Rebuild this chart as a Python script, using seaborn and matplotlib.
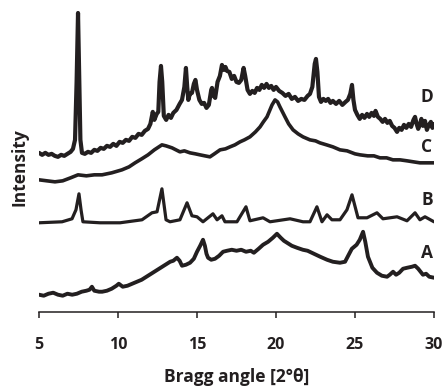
import matplotlib
matplotlib.use("Agg")
import matplotlib.pyplot as plt
import seaborn as sns
import pandas as pd

# ---- data (2theta in degrees, intensity in arbitrary units, already offset) ----
d_x = [5.0, 5.2, 5.4, 5.6, 5.8, 6.0, 6.2, 6.4, 6.6, 6.8, 7.0, 7.15, 7.28, 7.38, 7.47, 7.55, 7.62,
       7.72, 7.9, 8.1, 8.3, 8.5, 8.7, 8.9, 9.1, 9.3, 9.5, 9.7, 9.9, 10.1, 10.3, 10.5, 10.7, 10.9,
       11.1, 11.3, 11.5, 11.7, 11.9, 12.05, 12.2, 12.3, 12.45, 12.55, 12.63, 12.72, 12.8, 12.9,
       13.05, 13.2, 13.35, 13.5, 13.7, 13.9, 14.05, 14.2, 14.3, 14.38, 14.45, 14.55, 14.68, 14.8,
       14.9, 15.0, 15.15, 15.3, 15.45, 15.6, 15.75, 15.9, 15.95, 16.05, 16.15, 16.3, 16.45, 16.58,
       16.7, 16.8, 16.9, 17.05, 17.2, 17.35, 17.5, 17.65, 17.8, 17.95, 18.05, 18.2, 18.35, 18.5,
       18.65, 18.8, 18.95, 19.1, 19.25, 19.4, 19.55, 19.7, 19.85, 20.0, 20.2, 20.4, 20.6, 20.8,
       21.0, 21.2, 21.4, 21.6, 21.8, 22.0, 22.15, 22.3, 22.45, 22.53, 22.62, 22.72, 22.85, 23.0,
       23.15, 23.3, 23.45, 23.6, 23.8, 24.0, 24.2, 24.4, 24.55, 24.7, 24.81, 24.9, 25.0, 25.15,
       25.3, 25.45, 25.6, 25.76, 25.9, 26.05, 26.2, 26.3, 26.45, 26.6, 26.75, 26.9, 27.05, 27.2,
       27.35, 27.5, 27.66, 27.8, 27.95, 28.1, 28.25, 28.4, 28.55, 28.7, 28.8, 28.9, 29.0, 29.1,
       29.2, 29.3, 29.43, 29.55, 29.65, 29.8, 29.9, 30.0]
d_y = [159, 157, 159, 157, 158, 156, 155, 157, 156, 158, 160, 163, 172, 230, 299, 230, 172,
       159, 158, 160, 159, 162, 161, 164, 163, 166, 165, 168, 166, 170, 169, 172, 171, 175,
       174, 178, 177, 181, 183, 188, 200, 192, 198, 200, 230, 246, 230, 196,
       192, 197, 194, 199, 202, 208, 212, 225, 244, 225, 212, 218, 219, 228,
       232, 222, 212, 208, 209, 204, 207, 222, 224, 216, 214, 230, 236, 247,
       242, 245, 241, 240, 233, 236, 230, 229, 232, 244, 236, 222, 218, 221,
       219, 224, 222, 227, 224, 228, 224, 226, 222, 225, 221, 219, 216, 218,
       213, 215, 211, 213, 212, 216, 218, 225, 248, 253, 240, 215, 210, 213,
       211, 213, 209, 211, 208, 211, 207, 210, 212, 218, 227, 212, 202, 197,
       193, 197, 194, 198, 195, 199, 196, 201, 195, 193, 190, 193, 189, 191,
       186, 184, 180, 184, 182, 187, 184, 188, 185, 192, 195, 188, 183, 187,
       193, 186, 191, 182, 186, 190, 184, 188]

c_x = [5.00, 5.5, 6.01, 6.5, 7.0, 7.47, 8.0, 8.5, 8.99, 9.6, 10.25, 10.7, 11.08, 11.5, 11.90,
       12.3, 12.78, 13.04, 13.42, 13.92, 14.2, 14.56, 14.9, 15.19, 15.5, 15.82, 16.1, 16.46, 16.8,
       17.09, 17.4, 17.72, 18.0, 18.35, 18.7, 18.99, 19.2, 19.43, 19.75, 19.94, 20.1, 20.25,
       20.57, 20.8, 21.08, 21.4, 21.71, 22.15, 22.5, 22.78, 23.2, 23.6, 24.05, 24.5, 25.0, 25.32,
       25.8, 26.2, 26.58, 27.0, 27.4, 27.85, 28.3, 28.7, 29.11, 29.5, 30.00]
c_y = [132, 131, 130, 131, 134, 137, 136, 137, 137, 139, 142, 145, 149, 153, 157,
       162, 167, 166, 164, 160, 161, 159, 158, 157, 156, 155, 158, 162, 163,
       165, 167, 170, 172, 175, 180, 185, 190, 195, 207, 212, 210, 205,
       195, 188, 182, 178, 175, 172, 171, 169, 167, 165, 162, 161, 158, 157,
       156, 156, 154, 154, 152, 152, 151, 150, 149, 149, 149]

b_x = [5.0, 6.46, 7.09, 7.34, 7.53, 7.66, 7.78, 8.86, 10.13, 11.52, 12.15, 12.47, 12.78, 13.04,
       13.29, 13.92, 14.37, 14.68, 15.0, 15.38, 16.01, 16.27, 16.58, 16.77, 17.53, 18.10, 18.35,
       19.18, 19.62, 20.89, 21.71, 22.15, 22.59, 22.91, 23.23, 23.54, 24.05, 24.49, 24.81, 25.19,
       25.76, 26.39, 26.77, 27.66, 28.29, 28.80, 29.11, 29.43, 30.0]
b_y = [89, 90, 93, 102, 118, 102, 90, 89, 89, 92, 99, 100, 123, 92,
       90, 92, 109, 96, 95, 90, 98, 92, 96, 90, 90, 105, 91,
       94, 90, 93, 90, 90, 105, 90, 97, 92, 92, 102, 117, 94,
       94, 99, 93, 95, 91, 99, 92, 95, 90]

a_x = [5.0, 5.3, 5.6, 5.9, 6.2, 6.5, 6.8, 7.1, 7.4, 7.7, 8.0, 8.2, 8.35, 8.5, 8.8, 9.0, 9.3, 9.6,
       9.9, 10.05, 10.3, 10.6, 10.9, 11.2, 11.5, 11.8, 12.1, 12.4, 12.7, 13.0, 13.3, 13.5, 13.73,
       13.9, 14.05, 14.3, 14.56, 14.8, 15.0, 15.2, 15.38, 15.5, 15.6, 15.7, 15.9, 16.14, 16.4,
       16.65, 16.9, 17.2, 17.5, 17.8, 18.1, 18.4, 18.6, 18.9, 19.18, 19.5, 19.8, 20.06, 20.3,
       20.5, 20.7, 21.0, 21.33, 21.7, 22.0, 22.4, 22.8, 23.23, 23.6, 24.05, 24.37, 24.6, 24.8,
       25.1, 25.3, 25.51, 25.65, 25.82, 26.1, 26.39, 26.7, 27.03, 27.2, 27.41, 27.6, 27.8, 28.04,
       28.3, 28.6, 28.8, 29.0, 29.3, 29.5, 29.7, 30.0]
a_y = [17, 16, 18, 19, 17, 16, 18, 17, 18, 20, 21, 22, 25, 21, 20, 20, 21, 23,
       26, 28, 25, 26, 28, 30, 32, 35, 38, 41, 44, 47, 50, 51, 54,
       51, 46, 47, 49, 53, 60, 66, 72, 66, 58, 54, 52, 53, 56,
       60, 61, 62, 61, 62, 60, 61, 59, 63, 67, 70, 74, 78, 74,
       71, 69, 66, 64, 62, 61, 58, 55, 52, 50, 49, 50, 57, 63,
       67, 72, 80, 70, 55, 44, 39, 36, 35, 37, 40, 37, 39, 43,
       44, 45, 46, 43, 37, 38, 35, 34]

labels = ["D", "C", "B", "A"]
label_y = [215, 165, 112, 59]
x_ticks = [5, 10, 15, 20, 25, 30]

# ---- plotting ----
sns.set_style("white")
plt.rcParams["font.family"] = ["Open Sans", "DejaVu Sans"]

fig = plt.figure(figsize=(4.45, 3.88), dpi=100)
ax = fig.add_axes([39 / 445, 76.3 / 388, 395 / 445, 311.7 / 388])

col = "#231f20"
series = [(d_x, d_y, 3.0), (c_x, c_y, 2.6), (b_x, b_y, 2.3), (a_x, a_y, 2.8)]
for xs, ys, lw in series:
    df = pd.DataFrame({"x": xs, "y": ys})
    sns.lineplot(data=df, x="x", y="y", ax=ax, color=col, linewidth=lw,
                 sort=False, estimator=None)

for lab, yy in zip(labels, label_y):
    ax.text(29.56, yy, lab, fontsize=12.5, fontweight="bold", color=col,
            ha="center", va="center")

ax.set_xlim(5, 30)
ax.set_ylim(0, 312)
ax.set_xticks(x_ticks)
ax.set_xticklabels([str(t) for t in x_ticks], fontsize=11.5, fontweight="bold", color=col)
ax.set_yticks([])
for s in ["left", "top", "right"]:
    ax.spines[s].set_visible(False)
ax.spines["bottom"].set_linewidth(1.1)
ax.spines["bottom"].set_color(col)
ax.tick_params(axis="x", direction="out", length=4, width=1.1, color=col, pad=14, bottom=True)
ax.set_xlabel("Bragg angle [2°θ]", fontsize=12.5, fontweight="bold", color=col, labelpad=11)
ax.set_ylabel("")
fig.text(20 / 445, 1 - 167 / 388, "Intensity", rotation=90, fontsize=12.5, fontweight="bold",
         color=col, ha="center", va="center")

fig.savefig("out.png", dpi=100)
